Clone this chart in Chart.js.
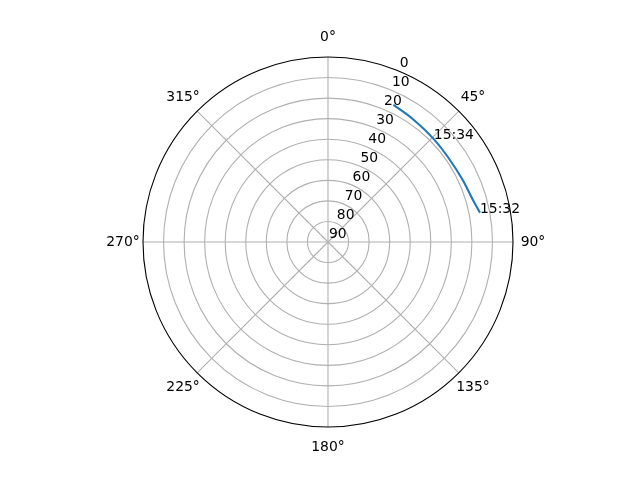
<!DOCTYPE html>
<html>
<head>
<meta charset="utf-8">
<script src="https://cdn.jsdelivr.net/npm/chart.js@4/dist/chart.umd.min.js"></script>
<style>
  html, body { margin: 0; padding: 0; background: #fff; }
  #sky { display: block; }
</style>
</head>
<body>
<canvas id="sky" width="640" height="480"></canvas>
<script>
// satellite track (azimuth deg, elevation deg)
const trackAz = [79.1, 74.5, 65.1, 54.3, 45.8, 34.1, 25.5];
const trackEl = [14.7, 16.4, 17.9, 18.5, 18.2, 17.3, 16.1];

// time annotations on the track
const noteLabels = ['15:32', '15:34'];
const noteAz = [79.1, 45.8];
const noteEl = [14.7, 18.2];

// ticks
const angleTicks = [0, 45, 90, 135, 180, 225, 270, 315];
const elevTicks = [0, 10, 20, 30, 40, 50, 60, 70, 80, 90];

const FONT = '13.9px "DejaVu Sans"';

// elevation 90 sits in the centre, 0 on the rim; azimuth clockwise from north
function toXY(az, el) {
  const rho = 90 - el;
  const a = az * Math.PI / 180;
  return { x: rho * Math.sin(a), y: rho * Math.cos(a) };
}

const trackPts = trackAz.map((az, i) => toXY(az, trackEl[i]));

const polarGrid = {
  id: 'polarGrid',
  beforeDatasetsDraw(chart) {
    const ctx = chart.ctx;
    const xs = chart.scales.x, ys = chart.scales.y;
    const cx = xs.getPixelForValue(0), cy = ys.getPixelForValue(0);
    const unit = xs.getPixelForValue(1) - cx;
    ctx.save();
    ctx.strokeStyle = '#b0b0b0';
    ctx.lineWidth = 1.1;
    elevTicks.forEach(el => {
      const rho = 90 - el;
      if (rho <= 0 || rho >= 90) return;
      ctx.beginPath();
      ctx.arc(cx, cy, rho * unit, 0, Math.PI * 2);
      ctx.stroke();
    });
    angleTicks.forEach(az => {
      const p = toXY(az, 0);
      ctx.beginPath();
      ctx.moveTo(cx, cy);
      ctx.lineTo(xs.getPixelForValue(p.x), ys.getPixelForValue(p.y));
      ctx.stroke();
    });
    ctx.restore();
  },
  afterDatasetsDraw(chart) {
    const ctx = chart.ctx;
    const xs = chart.scales.x, ys = chart.scales.y;
    const cx = xs.getPixelForValue(0), cy = ys.getPixelForValue(0);
    const unit = xs.getPixelForValue(1) - cx;
    ctx.save();
    // rim
    ctx.strokeStyle = '#000';
    ctx.lineWidth = 1.1;
    ctx.beginPath();
    ctx.arc(cx, cy, 90 * unit, 0, Math.PI * 2);
    ctx.stroke();

    ctx.fillStyle = '#000';
    ctx.font = FONT;
    // azimuth labels
    ctx.textAlign = 'center';
    ctx.textBaseline = 'middle';
    angleTicks.forEach(az => {
      const a = az * Math.PI / 180;
      const r = 90 * unit + 20;
      ctx.fillText(az + '\u00b0', cx + r * Math.sin(a), cy - r * Math.cos(a));
    });
    // elevation labels along 22.5 deg
    ctx.textAlign = 'left';
    ctx.textBaseline = 'bottom';
    elevTicks.forEach(el => {
      const p = toXY(22.5, el);
      ctx.fillText(String(el), xs.getPixelForValue(p.x) + 1, ys.getPixelForValue(p.y) - 1);
    });
    // time notes
    ctx.textBaseline = 'alphabetic';
    noteLabels.forEach((t, i) => {
      const p = toXY(noteAz[i], noteEl[i]);
      ctx.fillText(t, xs.getPixelForValue(p.x), ys.getPixelForValue(p.y));
    });
    ctx.restore();
  }
};

new Chart(document.getElementById('sky'), {
  type: 'scatter',
  data: {
    datasets: [{
      data: trackPts,
      showLine: true,
      borderColor: '#1f77b4',
      borderWidth: 2.1,
      pointRadius: 0,
      cubicInterpolationMode: 'monotone'
    }]
  },
  options: {
    responsive: false,
    animation: false,
    layout: { padding: { left: 143, right: 127, top: 57, bottom: 53 } },
    scales: {
      x: { type: 'linear', min: -90, max: 90, display: false },
      y: { type: 'linear', min: -90, max: 90, display: false }
    },
    plugins: { legend: { display: false }, tooltip: { enabled: false } }
  },
  plugins: [polarGrid]
});
</script>
</body>
</html>
